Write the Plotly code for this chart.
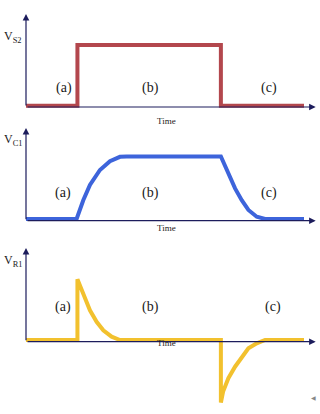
import plotly.graph_objects as go

# ---- data (time in arbitrary units, voltages normalised) ----
t_s2 = [0, 1.85, 1.85, 7.01, 7.01, 10.0]
v_s2 = [0, 0, 1, 1, 0, 0]

t_c1 = [0, 1.82, 2.06, 2.30, 2.66, 3.02, 3.38, 3.62, 7.01, 7.28, 7.52, 7.76, 8.0, 8.30, 8.6, 10.0]
v_c1 = [0, 0, 0.30, 0.544, 0.784, 0.925, 0.995, 1.0, 1.0, 0.73, 0.49, 0.30, 0.144, 0.037, 0, 0]

t_r1 = [0, 1.85, 1.85, 2.06, 2.30, 2.54, 2.78, 3.08, 3.38, 7.01, 7.01, 7.09, 7.28, 7.52, 7.76, 8.0, 8.30, 8.6, 10.0]
v_r1 = [0, 0, 1.0, 0.74, 0.49, 0.30, 0.16, 0.055, 0, 0, -1.03, -0.85, -0.63, -0.44, -0.275, -0.137, -0.054, 0, 0]

y_labels = ["V<sub>S2</sub>", "V<sub>C1</sub>", "V<sub>R1</sub>"]
region_labels = ["(a)", "(b)", "(c)"]
x_label = "Time"

W, H = 320, 414
AX = "#1c1c5c"
TXT = "#1a1a1a"
FONT = "Liberation Serif"

def py(p):
    return 1 - p / H

def px(p):
    return p / W

X_RANGE = [-26 / 27.8, (W - 26) / 27.8]

# per panel: (band top px, band bottom px, zero px, px per unit, color, t, v, axis px, arrow top px)
panels = [
    (0, 120, 105.7, 60.7, "#b3474d", t_s2, v_s2, 107.0, 14),
    (120, 240, 219.0, 62.5, "#3d64db", t_c1, v_c1, 220.7, 128),
    (240, 414, 340.0, 60.7, "#f2c12e", t_r1, v_r1, 341.7, 248),
]
label_pos = [
    [(23.5, 27.5), (53.5, 78), (150.7, 78), (279.3, 78), (166.5, 113.5)],
    [(23.5, 140), (53.0, 192.7), (150.7, 192.7), (279.3, 192.7), (166.5, 228)],
    [(23.5, 261), (52.7, 316.7), (150.0, 316.7), (283.3, 316.7), (166.5, 350)],
]

fig = go.Figure()
layout = dict(
    width=W, height=H, margin=dict(l=0, r=0, t=0, b=0),
    paper_bgcolor="white", plot_bgcolor="rgba(0,0,0,0)", showlegend=False,
)
annotations = []
for i, (top, bot, zero, unit, col, t, v, axp, arrp) in enumerate(panels):
    n = "" if i == 0 else str(i + 1)
    xa, ya = "x" + n, "y" + n
    yr = [-(bot - zero) / unit, (zero - top) / unit]
    layout["xaxis" + n] = dict(domain=[0, 1], range=X_RANGE, visible=False,
                               anchor=ya, fixedrange=True)
    layout["yaxis" + n] = dict(domain=[py(bot), py(top)], range=yr, visible=False,
                               anchor=xa, fixedrange=True)
    fig.add_trace(go.Scatter(x=t, y=v, mode="lines", xaxis=xa, yaxis=ya,
                             line=dict(color=col, width=4), hoverinfo="skip"))
    y_axis_val = -(axp - zero) / unit
    top_val = (zero - arrp) / unit
    x_end = (315.7 - 26) / 27.8
    # x axis arrow
    annotations.append(dict(x=x_end, y=y_axis_val, ax=0, ay=y_axis_val, xref=xa, yref=ya,
                            axref=xa, ayref=ya, text="", showarrow=True, arrowhead=2,
                            arrowsize=1.1, arrowwidth=1.2, arrowcolor=AX, standoff=0))
    # y axis arrow
    annotations.append(dict(x=0, y=top_val, ax=0, ay=y_axis_val, xref=xa, yref=ya,
                            axref=xa, ayref=ya, text="", showarrow=True, arrowhead=2,
                            arrowsize=1.1, arrowwidth=1.2, arrowcolor=AX, standoff=0))
    lp = label_pos[i]
    annotations.append(dict(x=px(lp[0][0]), y=py(lp[0][1]), xref="paper", yref="paper",
                            xanchor="right", text=y_labels[i], showarrow=False,
                            font=dict(family=FONT, size=12, color=TXT)))
    for j in range(3):
        annotations.append(dict(x=px(lp[j + 1][0]), y=py(lp[j + 1][1]), xref="paper", yref="paper",
                                text=region_labels[j], showarrow=False,
                                font=dict(family=FONT, size=14, color=TXT)))
    annotations.append(dict(x=px(lp[4][0]), y=py(lp[4][1]), xref="paper", yref="paper",
                            text=x_label, showarrow=False,
                            font=dict(family=FONT, size=9, color=TXT)))

annotations.append(dict(x=px(318), y=py(404), xref="paper", yref="paper", text="◀",
                        showarrow=False, font=dict(size=6, color="#888888")))
layout["annotations"] = annotations
fig.update_layout(**layout)
fig.write_html("out.html", config={"displayModeBar": False})
